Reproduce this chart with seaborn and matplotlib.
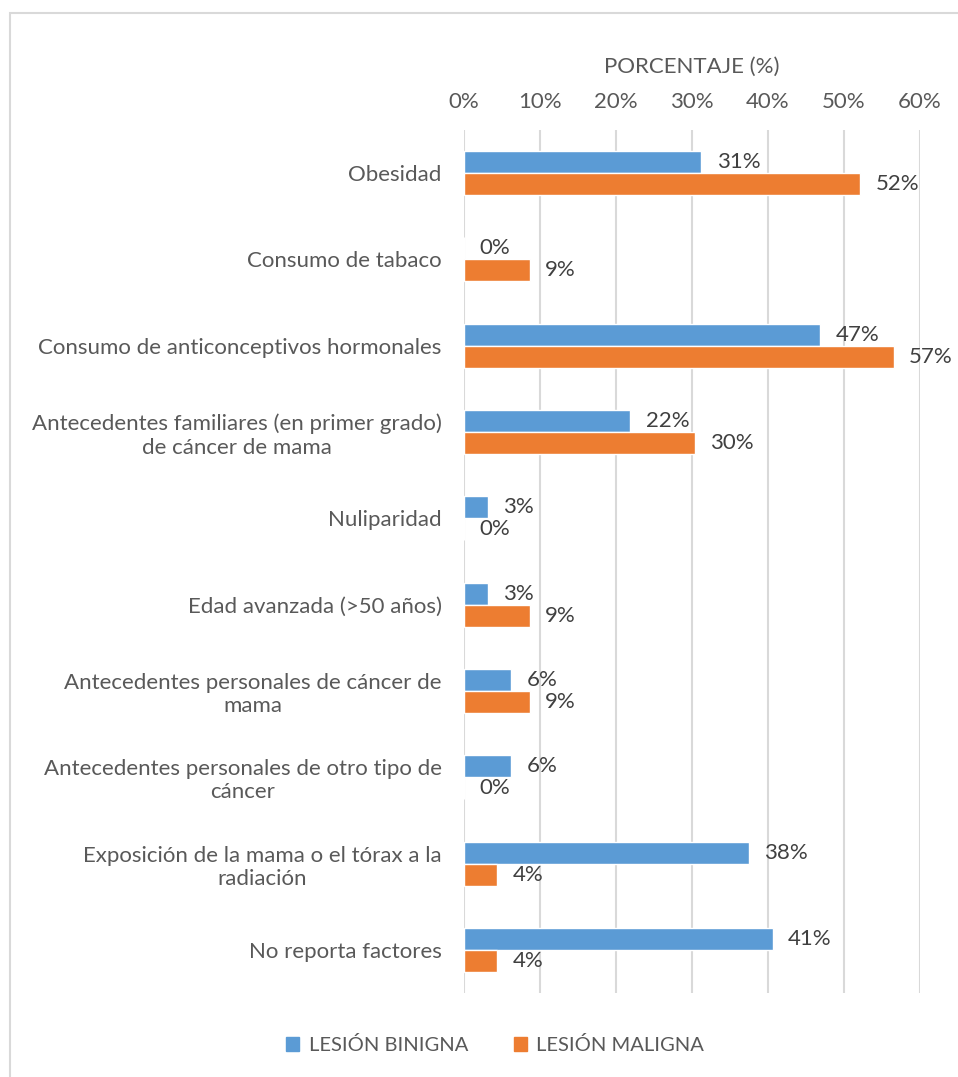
import matplotlib
matplotlib.use("Agg")
import matplotlib.pyplot as plt
import seaborn as sns
import pandas as pd
from matplotlib.patches import Rectangle

categories = [
    "Obesidad",
    "Consumo de tabaco",
    "Consumo de anticonceptivos hormonales",
    "Antecedentes familiares (en primer grado)\nde cáncer de mama",
    "Nuliparidad",
    "Edad avanzada (>50 años)",
    "Antecedentes personales de cáncer de\nmama",
    "Antecedentes personales de otro tipo de\ncáncer",
    "Exposición de la mama o el tórax a la\nradiación",
    "No reporta factores",
]
benigna = [31.25, 0.0, 46.88, 21.88, 3.13, 3.13, 6.25, 6.25, 37.50, 40.63]
maligna = [52.17, 8.70, 56.52, 30.43, 0.0, 8.70, 8.70, 0.0, 4.35, 4.35]
series = ["LESIÓN BINIGNA", "LESIÓN MALIGNA"]
colors = ["#5B9BD5", "#ED7D31"]
xticks = [0, 10, 20, 30, 40, 50, 60]

df = pd.DataFrame({
    "cat": categories * 2,
    "serie": [series[0]] * len(categories) + [series[1]] * len(categories),
    "valor": benigna + maligna,
})

sns.set_theme(style="white")
plt.rcParams["font.family"] = ["Lato", "DejaVu Sans"]
text_color = "#595959"
fs = 16

fig = plt.figure(figsize=(9.58, 10.77), dpi=100)
ax = fig.add_axes([0.4843, 0.078, 0.476, 0.8013])

sns.barplot(data=df, y="cat", x="valor", hue="serie", palette=colors,
            orient="h", width=0.51, ax=ax, legend=False, saturation=1)

ax.set_xlim(0, 60)
ax.set_ylim(len(categories) - 0.5, -0.5)
ax.set_xticks(xticks)
ax.set_xticklabels([f"{v}%" for v in xticks], fontsize=fs, color=text_color)
ax.xaxis.tick_top()
ax.xaxis.set_label_position("top")
ax.set_xlabel("PORCENTAJE (%)", fontsize=fs, color=text_color, labelpad=14)
ax.set_ylabel("")
ax.tick_params(axis="x", length=0, pad=13)
ax.tick_params(axis="y", length=0, pad=16, labelsize=fs, labelcolor=text_color)
for lbl in ax.get_yticklabels():
    lbl.set_horizontalalignment("right")
    lbl.set_multialignment("center")
ax.grid(axis="x", color="#D9D9D9", linewidth=1.5)
ax.set_axisbelow(True)
for s in ax.spines.values():
    s.set_visible(False)

for cont in ax.containers:
    labels = [f"{round(b.get_width()):.0f}%" for b in cont]
    ax.bar_label(cont, labels=labels, padding=11, fontsize=fs, color="#404040")

# legend
handles = [Rectangle((0, 0), 1, 1, color=c) for c in colors]
fig.legend(handles, series, loc="center", bbox_to_anchor=(0.517, 0.0295), ncol=2,
           frameon=False, fontsize=14.5, labelcolor=text_color,
           handlelength=0.65, handleheight=0.65, handletextpad=0.45, columnspacing=2.3)

# chart border
fig.add_artist(Rectangle((9.5 / 958, -0.01), 1.0, 1 - 12.5 / 1077 + 0.01,
                         transform=fig.transFigure, fill=False,
                         edgecolor="#D9D9D9", linewidth=1.5))

fig.savefig("out.png", dpi=100, facecolor="white")
